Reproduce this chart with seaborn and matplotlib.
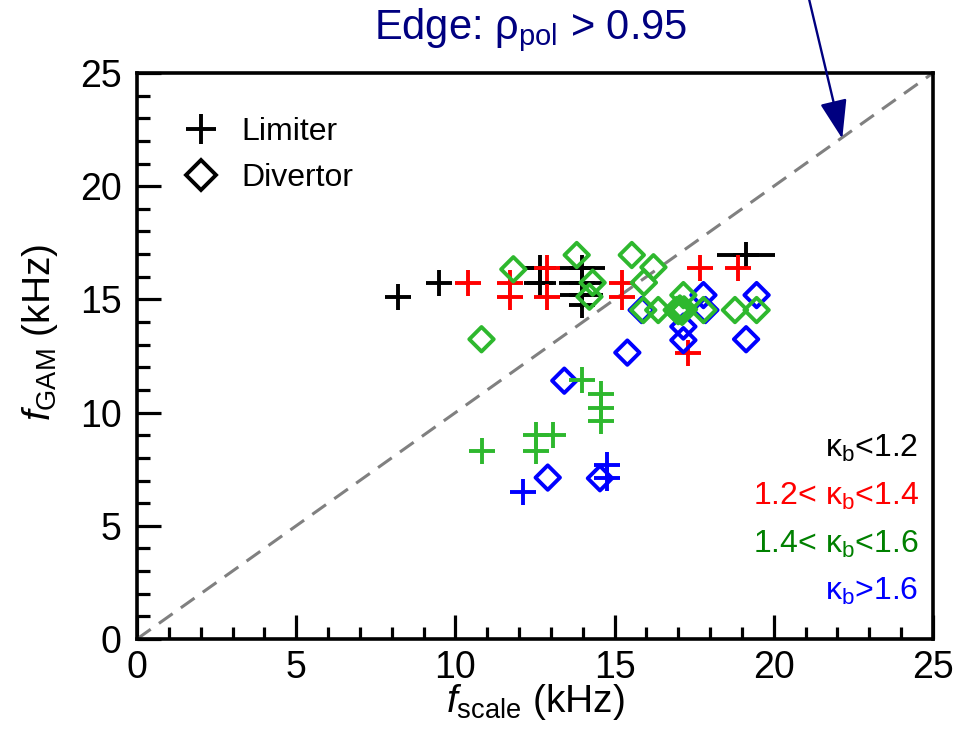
import matplotlib
matplotlib.use("Agg")
import matplotlib.pyplot as plt
from matplotlib.lines import Line2D
from matplotlib.ticker import MultipleLocator
import seaborn as sns
import pandas as pd

# ---------------- data ----------------
# Limiter shots ("+"), grouped by elongation kappa_b
lim_k1_x = [8.2, 9.5, 12.66, 12.66, 13.97, 13.97, 13.97, 13.97, 19.13]
lim_k1_y = [15.12, 15.74, 16.37, 15.74, 16.37, 15.74, 15.19, 14.75, 16.96]
lim_k1_xerr = [0, 0, 0.5, 0.5, 0.72, 0.72, 0.68, 0, 0.92]

lim_k2_x = [10.41, 11.71, 11.71, 12.87, 12.87, 15.22, 15.22, 17.68, 18.89, 17.31]
lim_k2_y = [15.74, 15.71, 15.12, 16.37, 15.12, 15.71, 15.12, 16.37, 16.37, 12.65]

lim_k3_x = [13.99, 14.56, 14.56, 14.56, 10.82, 12.53, 12.53, 13.08]
lim_k3_y = [11.44, 10.82, 10.22, 9.63, 8.32, 9.01, 8.32, 9.01]

lim_k4_x = [12.13, 14.77, 14.77]
lim_k4_y = [6.51, 7.69, 7.10]

# Divertor shots (diamonds)
div_k3_x = [11.82, 13.81, 14.31, 14.21, 15.54, 16.22, 15.92, 15.90, 16.37, 17.16,
            16.95, 17.05, 17.12, 17.00, 17.18, 17.79, 18.78, 19.46, 10.82]
div_k3_y = [16.33, 16.96, 15.74, 15.12, 16.96, 16.42, 15.74, 14.53, 14.53, 15.19,
            14.53, 14.60, 14.45, 14.48, 14.56, 14.53, 14.53, 14.53, 13.24]

div_k4_x = [15.85, 17.79, 19.46, 17.16, 17.16, 19.13, 15.40, 13.42, 12.90, 14.54, 17.85]
div_k4_y = [14.53, 15.19, 15.19, 13.80, 13.20, 13.24, 12.65, 11.41, 7.13, 7.10, 14.53]

diag = [0, 25]

kappa_labels = [r"$\mathrm{κ_b}$<1.2", r"1.2< $\mathrm{κ_b}$<1.4",
                r"1.4< $\mathrm{κ_b}$<1.6", r"$\mathrm{κ_b}$>1.6"]
config_labels = ["Limiter", "Divertor"]
title_text = r"Edge: $\mathrm{ρ_{pol}}$ > 0.95"
xlabel_text = r"$f_{\mathrm{scale}}$ (kHz)"
ylabel_text = r"$f_{\mathrm{GAM}}$ (kHz)"

# ---------------- style ----------------
sns.set_style("white")
plt.rcParams["font.family"] = ["Liberation Sans", "DejaVu Sans"]
plt.rcParams["mathtext.fontset"] = "custom"
plt.rcParams["mathtext.rm"] = "Liberation Sans"
plt.rcParams["mathtext.it"] = "Liberation Sans:italic"
plt.rcParams["mathtext.bf"] = "Liberation Sans:bold"

c_black, c_red, c_green, c_blue = "#000000", "#ff0000", "#2eb82e", "#0000ff"
text_colors = ["#000000", "#ff0000", "#008000", "#0000ff"]
navy = "#000080"

fig = plt.figure(figsize=(9.64, 7.33), dpi=100)
ax = fig.add_axes([137 / 964, 94 / 733, 796 / 964, 566 / 733])

# diagonal reference line
ax.plot(diag, diag, color="#808080", lw=2.2, dashes=(5.5, 3.3), zorder=1.5)

PLUS_S = 360
DIA_S = 155
LW = 2.8


def plus(xs, ys, color, z):
    df = pd.DataFrame({"x": xs, "y": ys})
    sns.scatterplot(data=df, x="x", y="y", marker="+", s=PLUS_S, color=color,
                    linewidth=LW, ax=ax, zorder=z, legend=False)


def diamond(xs, ys, color, z):
    df = pd.DataFrame({"x": xs, "y": ys})
    sns.scatterplot(data=df, x="x", y="y", marker="D", s=DIA_S, facecolor="none",
                    edgecolor=color, linewidth=LW, ax=ax, zorder=z, legend=False)


ax.errorbar(lim_k1_x, lim_k1_y, xerr=lim_k1_xerr, fmt="none", ecolor=c_black,
            elinewidth=LW, capsize=0, zorder=3)
plus(lim_k1_x, lim_k1_y, c_black, 3)
plus(lim_k2_x, lim_k2_y, c_red, 3.1)
diamond(div_k4_x, div_k4_y, c_blue, 3.2)
diamond(div_k3_x, div_k3_y, c_green, 3.3)
plus(lim_k3_x, lim_k3_y, c_green, 3.4)
plus(lim_k4_x, lim_k4_y, c_blue, 3.5)

# axes formatting
ax.set_xlim(0, 25)
ax.set_ylim(0, 25)
ax.xaxis.set_major_locator(MultipleLocator(5))
ax.yaxis.set_major_locator(MultipleLocator(5))
ax.xaxis.set_minor_locator(MultipleLocator(1))
ax.yaxis.set_minor_locator(MultipleLocator(1))
ax.tick_params(which="both", direction="in", top=False, right=False,
               bottom=True, left=True, width=2.3, color="black",
               labelcolor="black", labelsize=27)
ax.tick_params(which="major", length=17)
ax.tick_params(which="minor", length=9)
ax.tick_params(axis="x", which="major", pad=8)
ax.tick_params(axis="y", which="major", pad=11)
for sp in ax.spines.values():
    sp.set_visible(True)
    sp.set_color("black")
    sp.set_linewidth(2.6)
ax.grid(False)

ax.set_xlabel(xlabel_text, fontsize=28, color="black")
ax.set_ylabel(ylabel_text, fontsize=28, color="black")
ax.xaxis.set_label_coords(0.5, (639 - 702) / 566)
ax.xaxis.label.set_va("center")
ax.yaxis.set_label_coords((40 - 137) / 796, (639 - 332) / 566)
ax.yaxis.label.set_va("center")

# legend (marker type)
handles = [
    Line2D([], [], ls="", marker="+", ms=22, mew=2.8, color="black"),
    Line2D([], [], ls="", marker="D", ms=15, mew=2.8, mfc="none", mec="black"),
]
leg = ax.legend(handles, config_labels, loc="upper left",
                bbox_to_anchor=((185 - 137) / 796, (639 - 117) / 566),
                frameon=False, fontsize=23, handlelength=1.0, handletextpad=0.75,
                borderpad=0, borderaxespad=0, labelspacing=0.5)
for t in leg.get_texts():
    t.set_color("black")

# kappa colour key
ky = [(639 - 457) / 566, (639 - 505) / 566, (639 - 553) / 566, (639 - 600) / 566]
for lab, col, yy in zip(kappa_labels, text_colors, ky):
    ax.text(0.982, yy, lab, transform=ax.transAxes, ha="right", va="baseline",
            fontsize=23, color=col)

# title
fig.text(0.550, 1 - 30 / 733, title_text, ha="center", va="center",
         fontsize=30, color=navy)

# arrow to the diagonal
ax.annotate("", xy=(22.15, 22.1), xytext=(21.05, 28.6), xycoords="data",
            textcoords="data", annotation_clip=False,
            arrowprops=dict(arrowstyle="-|>,head_length=1.2,head_width=0.42",
                            mutation_scale=20, color=navy, lw=1.7,
                            shrinkA=0, shrinkB=0))

fig.savefig("out.png", dpi=100)
